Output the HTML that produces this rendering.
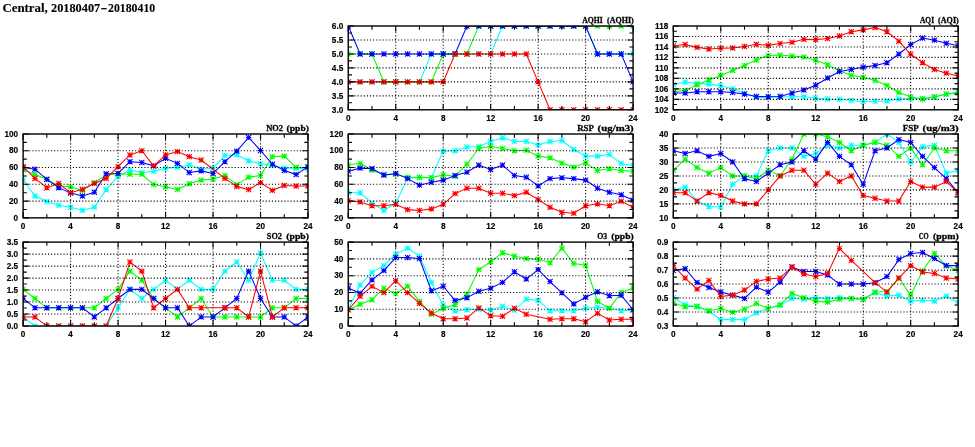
<!DOCTYPE html>
<html lang="en"><head><meta charset="utf-8"><title>Central, 20180407-20180410</title>
<style>
html,body{margin:0;padding:0;background:#fff}
body{width:975px;height:447px;overflow:hidden}
svg{display:block}
text{fill:#000}
.tt{font:bold 11.9px "Liberation Serif",serif;stroke:#000;stroke-width:0.1px}
.ti{font:bold 8.9px "Liberation Serif",serif;stroke:#000;stroke-width:0.28px}
.yl{font:bold 8.2px "Liberation Sans",sans-serif;text-anchor:end;stroke:#000;stroke-width:0.15px}
.xl{font:bold 8.2px "Liberation Sans",sans-serif;text-anchor:middle;stroke:#000;stroke-width:0.15px}
.gr{fill:none;stroke:#000;stroke-width:1.1;stroke-dasharray:1.1 2.01}
.tk{fill:none;stroke:#000;stroke-width:1.1}
.fr{fill:none;stroke:#000;stroke-width:1.4}
</style></head><body>
<svg width="975" height="447" viewBox="0 0 975 447">
<defs><g id="m"><path d="M-2.6 0H2.6M0 -2.6V2.6M-2.6 -2.6L2.6 2.6M-2.6 2.6L2.6 -2.6" fill="none" stroke-width="1.05"/></g></defs>
<rect width="975" height="447" fill="#fff"/>
<text x="2.4" y="11.5" class="tt" xml:space="preserve"><tspan textLength="48.6" lengthAdjust="spacingAndGlyphs">Central, </tspan><tspan textLength="49.2" lengthAdjust="spacingAndGlyphs">20180407</tspan><tspan dx="0.4" textLength="6.9" lengthAdjust="spacingAndGlyphs">-</tspan><tspan dx="0.5" textLength="47.2" lengthAdjust="spacingAndGlyphs">20180410</tspan></text>
<g>
<clipPath id="cp1"><rect x="348.25" y="26" width="284.85" height="83.8"/></clipPath>
<g clip-path="url(#cp1)">
<polyline points="348.25,81.87 360.12,81.87 371.99,81.87 383.86,81.87 395.73,81.87 407.59,81.87 419.46,81.87 431.33,53.93 443.2,53.93 455.07,53.93 466.94,53.93 478.81,53.93 490.68,53.93 502.54,26 514.41,26 526.28,26 538.15,26 550.02,26 561.89,26 573.76,26 585.62,26 597.49,53.93 609.36,53.93 621.23,53.93 633.1,53.93" fill="none" stroke="#00ffff" stroke-width="1.05"/>
<g stroke="#00ffff"><use href="#m" x="348.25" y="81.87"/><use href="#m" x="360.12" y="81.87"/><use href="#m" x="371.99" y="81.87"/><use href="#m" x="383.86" y="81.87"/><use href="#m" x="395.73" y="81.87"/><use href="#m" x="407.59" y="81.87"/><use href="#m" x="419.46" y="81.87"/><use href="#m" x="431.33" y="53.93"/><use href="#m" x="443.2" y="53.93"/><use href="#m" x="455.07" y="53.93"/><use href="#m" x="466.94" y="53.93"/><use href="#m" x="478.81" y="53.93"/><use href="#m" x="490.68" y="53.93"/><use href="#m" x="502.54" y="26"/><use href="#m" x="514.41" y="26"/><use href="#m" x="526.28" y="26"/><use href="#m" x="538.15" y="26"/><use href="#m" x="550.02" y="26"/><use href="#m" x="561.89" y="26"/><use href="#m" x="573.76" y="26"/><use href="#m" x="585.62" y="26"/><use href="#m" x="597.49" y="53.93"/><use href="#m" x="609.36" y="53.93"/><use href="#m" x="621.23" y="53.93"/><use href="#m" x="633.1" y="53.93"/></g>
<polyline points="348.25,53.93 360.12,53.93 371.99,53.93 383.86,81.87 395.73,81.87 407.59,81.87 419.46,81.87 431.33,81.87 443.2,53.93 455.07,53.93 466.94,53.93 478.81,26 490.68,26 502.54,26 514.41,26 526.28,26 538.15,26 550.02,26 561.89,26 573.76,26 585.62,26 597.49,26 609.36,26 621.23,26 633.1,26" fill="none" stroke="#00ff00" stroke-width="1.05"/>
<g stroke="#00ff00"><use href="#m" x="348.25" y="53.93"/><use href="#m" x="360.12" y="53.93"/><use href="#m" x="371.99" y="53.93"/><use href="#m" x="383.86" y="81.87"/><use href="#m" x="395.73" y="81.87"/><use href="#m" x="407.59" y="81.87"/><use href="#m" x="419.46" y="81.87"/><use href="#m" x="431.33" y="81.87"/><use href="#m" x="443.2" y="53.93"/><use href="#m" x="455.07" y="53.93"/><use href="#m" x="466.94" y="53.93"/><use href="#m" x="478.81" y="26"/><use href="#m" x="490.68" y="26"/><use href="#m" x="502.54" y="26"/><use href="#m" x="514.41" y="26"/><use href="#m" x="526.28" y="26"/><use href="#m" x="538.15" y="26"/><use href="#m" x="550.02" y="26"/><use href="#m" x="561.89" y="26"/><use href="#m" x="573.76" y="26"/><use href="#m" x="585.62" y="26"/><use href="#m" x="597.49" y="26"/><use href="#m" x="609.36" y="26"/><use href="#m" x="621.23" y="26"/><use href="#m" x="633.1" y="26"/></g>
<polyline points="348.25,26 360.12,53.93 371.99,53.93 383.86,53.93 395.73,53.93 407.59,53.93 419.46,53.93 431.33,53.93 443.2,53.93 455.07,53.93 466.94,26 478.81,26 490.68,26 502.54,26 514.41,26 526.28,26 538.15,26 550.02,26 561.89,26 573.76,26 585.62,26 597.49,53.93 609.36,53.93 621.23,53.93 633.1,81.87" fill="none" stroke="#0000ff" stroke-width="1.05"/>
<g stroke="#0000ff"><use href="#m" x="348.25" y="26"/><use href="#m" x="360.12" y="53.93"/><use href="#m" x="371.99" y="53.93"/><use href="#m" x="383.86" y="53.93"/><use href="#m" x="395.73" y="53.93"/><use href="#m" x="407.59" y="53.93"/><use href="#m" x="419.46" y="53.93"/><use href="#m" x="431.33" y="53.93"/><use href="#m" x="443.2" y="53.93"/><use href="#m" x="455.07" y="53.93"/><use href="#m" x="466.94" y="26"/><use href="#m" x="478.81" y="26"/><use href="#m" x="490.68" y="26"/><use href="#m" x="502.54" y="26"/><use href="#m" x="514.41" y="26"/><use href="#m" x="526.28" y="26"/><use href="#m" x="538.15" y="26"/><use href="#m" x="550.02" y="26"/><use href="#m" x="561.89" y="26"/><use href="#m" x="573.76" y="26"/><use href="#m" x="585.62" y="26"/><use href="#m" x="597.49" y="53.93"/><use href="#m" x="609.36" y="53.93"/><use href="#m" x="621.23" y="53.93"/><use href="#m" x="633.1" y="81.87"/></g>
<polyline points="348.25,81.87 360.12,81.87 371.99,81.87 383.86,81.87 395.73,81.87 407.59,81.87 419.46,81.87 431.33,81.87 443.2,81.87 455.07,53.93 466.94,53.93 478.81,53.93 490.68,53.93 502.54,53.93 514.41,53.93 526.28,53.93 538.15,81.87 550.02,109.8 561.89,109.8 573.76,109.8 585.62,109.8 597.49,109.8 609.36,109.8 621.23,109.8 633.1,109.8" fill="none" stroke="#ff0000" stroke-width="1.05"/>
<g stroke="#ff0000"><use href="#m" x="348.25" y="81.87"/><use href="#m" x="360.12" y="81.87"/><use href="#m" x="371.99" y="81.87"/><use href="#m" x="383.86" y="81.87"/><use href="#m" x="395.73" y="81.87"/><use href="#m" x="407.59" y="81.87"/><use href="#m" x="419.46" y="81.87"/><use href="#m" x="431.33" y="81.87"/><use href="#m" x="443.2" y="81.87"/><use href="#m" x="455.07" y="53.93"/><use href="#m" x="466.94" y="53.93"/><use href="#m" x="478.81" y="53.93"/><use href="#m" x="490.68" y="53.93"/><use href="#m" x="502.54" y="53.93"/><use href="#m" x="514.41" y="53.93"/><use href="#m" x="526.28" y="53.93"/><use href="#m" x="538.15" y="81.87"/><use href="#m" x="550.02" y="109.8"/><use href="#m" x="561.89" y="109.8"/><use href="#m" x="573.76" y="109.8"/><use href="#m" x="585.62" y="109.8"/><use href="#m" x="597.49" y="109.8"/><use href="#m" x="609.36" y="109.8"/><use href="#m" x="621.23" y="109.8"/><use href="#m" x="633.1" y="109.8"/></g>
</g>
<path d="M348.25 95.83H633.1M348.25 81.87H633.1M348.25 67.9H633.1M348.25 53.93H633.1M348.25 39.97H633.1M395.73 26V109.8M443.2 26V109.8M490.68 26V109.8M538.15 26V109.8M585.62 26V109.8" class="gr"/>
<path d="M348.25 109.8h5.7M633.1 109.8h-5.7M348.25 102.82h3.7M633.1 102.82h-3.7M348.25 95.83h5.7M633.1 95.83h-5.7M348.25 88.85h3.7M633.1 88.85h-3.7M348.25 81.87h5.7M633.1 81.87h-5.7M348.25 74.88h3.7M633.1 74.88h-3.7M348.25 67.9h5.7M633.1 67.9h-5.7M348.25 60.92h3.7M633.1 60.92h-3.7M348.25 53.93h5.7M633.1 53.93h-5.7M348.25 46.95h3.7M633.1 46.95h-3.7M348.25 39.97h5.7M633.1 39.97h-5.7M348.25 32.98h3.7M633.1 32.98h-3.7M348.25 26h5.7M633.1 26h-5.7M348.25 109.8v-5.7M348.25 26v5.7M371.99 109.8v-3.7M371.99 26v3.7M395.73 109.8v-5.7M395.73 26v5.7M419.46 109.8v-3.7M419.46 26v3.7M443.2 109.8v-5.7M443.2 26v5.7M466.94 109.8v-3.7M466.94 26v3.7M490.68 109.8v-5.7M490.68 26v5.7M514.41 109.8v-3.7M514.41 26v3.7M538.15 109.8v-5.7M538.15 26v5.7M561.89 109.8v-3.7M561.89 26v3.7M585.62 109.8v-5.7M585.62 26v5.7M609.36 109.8v-3.7M609.36 26v3.7M633.1 109.8v-5.7M633.1 26v5.7" class="tk"/>
<rect x="348.25" y="26" width="284.85" height="83.8" class="fr"/>
<text x="343.25" y="112.5" class="yl">3.0</text>
<text x="343.25" y="98.53" class="yl">3.5</text>
<text x="343.25" y="84.57" class="yl">4.0</text>
<text x="343.25" y="70.6" class="yl">4.5</text>
<text x="343.25" y="56.63" class="yl">5.0</text>
<text x="343.25" y="42.67" class="yl">5.5</text>
<text x="343.25" y="28.7" class="yl">6.0</text>
<text x="348.25" y="120.95" class="xl">0</text>
<text x="395.73" y="120.95" class="xl">4</text>
<text x="443.2" y="120.95" class="xl">8</text>
<text x="490.68" y="120.95" class="xl">12</text>
<text x="538.15" y="120.95" class="xl">16</text>
<text x="585.62" y="120.95" class="xl">20</text>
<text x="633.1" y="120.95" class="xl">24</text>
<text y="22.6" class="ti" xml:space="preserve"><tspan x="582.2" textLength="20.5" lengthAdjust="spacingAndGlyphs">AQHI</tspan><tspan> </tspan><tspan x="606.97" textLength="26.8" lengthAdjust="spacingAndGlyphs">(AQHI)</tspan></text>
</g>
<g>
<clipPath id="cp2"><rect x="673.3" y="26" width="284.85" height="83.8"/></clipPath>
<g clip-path="url(#cp2)">
<polyline points="673.3,84.66 685.17,82.04 697.04,83.61 708.91,84.14 720.77,85.71 732.64,88.85 744.51,93.56 756.38,97.23 768.25,97.23 780.12,96.97 791.99,96.71 803.86,96.71 815.72,97.91 827.59,98.91 839.46,99.33 851.33,100.53 863.2,101.42 875.07,101.42 886.94,100.9 898.81,98.91 910.67,98.54 922.54,98.54 934.41,97.23 946.28,94.35 958.15,91.99" fill="none" stroke="#00ffff" stroke-width="1.05"/>
<g stroke="#00ffff"><use href="#m" x="673.3" y="84.66"/><use href="#m" x="685.17" y="82.04"/><use href="#m" x="697.04" y="83.61"/><use href="#m" x="708.91" y="84.14"/><use href="#m" x="720.77" y="85.71"/><use href="#m" x="732.64" y="88.85"/><use href="#m" x="744.51" y="93.56"/><use href="#m" x="756.38" y="97.23"/><use href="#m" x="768.25" y="97.23"/><use href="#m" x="780.12" y="96.97"/><use href="#m" x="791.99" y="96.71"/><use href="#m" x="803.86" y="96.71"/><use href="#m" x="815.72" y="97.91"/><use href="#m" x="827.59" y="98.91"/><use href="#m" x="839.46" y="99.33"/><use href="#m" x="851.33" y="100.53"/><use href="#m" x="863.2" y="101.42"/><use href="#m" x="875.07" y="101.42"/><use href="#m" x="886.94" y="100.9"/><use href="#m" x="898.81" y="98.91"/><use href="#m" x="910.67" y="98.54"/><use href="#m" x="922.54" y="98.54"/><use href="#m" x="934.41" y="97.23"/><use href="#m" x="946.28" y="94.35"/><use href="#m" x="958.15" y="91.99"/></g>
<polyline points="673.3,91.68 685.17,90.42 697.04,84.66 708.91,79.95 720.77,75.39 732.64,70.52 744.51,65.54 756.38,60.04 768.25,55.59 780.12,55.02 791.99,56.01 803.86,57.01 815.72,60.25 827.59,64.76 839.46,71.04 851.33,75.23 863.2,77.33 875.07,80.47 886.94,85.45 898.81,92.52 910.67,96.97 922.54,98.91 934.41,96.71 946.28,94.09 958.15,93.04" fill="none" stroke="#00ff00" stroke-width="1.05"/>
<g stroke="#00ff00"><use href="#m" x="673.3" y="91.68"/><use href="#m" x="685.17" y="90.42"/><use href="#m" x="697.04" y="84.66"/><use href="#m" x="708.91" y="79.95"/><use href="#m" x="720.77" y="75.39"/><use href="#m" x="732.64" y="70.52"/><use href="#m" x="744.51" y="65.54"/><use href="#m" x="756.38" y="60.04"/><use href="#m" x="768.25" y="55.59"/><use href="#m" x="780.12" y="55.02"/><use href="#m" x="791.99" y="56.01"/><use href="#m" x="803.86" y="57.01"/><use href="#m" x="815.72" y="60.25"/><use href="#m" x="827.59" y="64.76"/><use href="#m" x="839.46" y="71.04"/><use href="#m" x="851.33" y="75.23"/><use href="#m" x="863.2" y="77.33"/><use href="#m" x="875.07" y="80.47"/><use href="#m" x="886.94" y="85.45"/><use href="#m" x="898.81" y="92.52"/><use href="#m" x="910.67" y="96.97"/><use href="#m" x="922.54" y="98.91"/><use href="#m" x="934.41" y="96.71"/><use href="#m" x="946.28" y="94.09"/><use href="#m" x="958.15" y="93.04"/></g>
<polyline points="673.3,93.04 685.17,93.04 697.04,91.68 708.91,91.68 720.77,91.68 732.64,92.52 744.51,94.09 756.38,96.44 768.25,96.71 780.12,96.44 791.99,93.04 803.86,90.05 815.72,85.18 827.59,78.01 839.46,71.57 851.33,69.47 863.2,67.11 875.07,65.54 886.94,62.66 898.81,54.02 910.67,44.59 922.54,38.05 934.41,40.14 946.28,43.28 958.15,45.69" fill="none" stroke="#0000ff" stroke-width="1.05"/>
<g stroke="#0000ff"><use href="#m" x="673.3" y="93.04"/><use href="#m" x="685.17" y="93.04"/><use href="#m" x="697.04" y="91.68"/><use href="#m" x="708.91" y="91.68"/><use href="#m" x="720.77" y="91.68"/><use href="#m" x="732.64" y="92.52"/><use href="#m" x="744.51" y="94.09"/><use href="#m" x="756.38" y="96.44"/><use href="#m" x="768.25" y="96.71"/><use href="#m" x="780.12" y="96.44"/><use href="#m" x="791.99" y="93.04"/><use href="#m" x="803.86" y="90.05"/><use href="#m" x="815.72" y="85.18"/><use href="#m" x="827.59" y="78.01"/><use href="#m" x="839.46" y="71.57"/><use href="#m" x="851.33" y="69.47"/><use href="#m" x="863.2" y="67.11"/><use href="#m" x="875.07" y="65.54"/><use href="#m" x="886.94" y="62.66"/><use href="#m" x="898.81" y="54.02"/><use href="#m" x="910.67" y="44.59"/><use href="#m" x="922.54" y="38.05"/><use href="#m" x="934.41" y="40.14"/><use href="#m" x="946.28" y="43.28"/><use href="#m" x="958.15" y="45.69"/></g>
<polyline points="673.3,45.9 685.17,44.59 697.04,47.37 708.91,49.05 720.77,48.15 732.64,48 744.51,46.43 756.38,44.33 768.25,45.38 780.12,43.55 791.99,42.24 803.86,39.36 815.72,39.62 827.59,38.57 839.46,35.95 851.33,31.76 863.2,29.88 875.07,27.57 886.94,31.76 898.81,41.19 910.67,54.28 922.54,62.66 934.41,69.47 946.28,73.14 958.15,76.02" fill="none" stroke="#ff0000" stroke-width="1.05"/>
<g stroke="#ff0000"><use href="#m" x="673.3" y="45.9"/><use href="#m" x="685.17" y="44.59"/><use href="#m" x="697.04" y="47.37"/><use href="#m" x="708.91" y="49.05"/><use href="#m" x="720.77" y="48.15"/><use href="#m" x="732.64" y="48"/><use href="#m" x="744.51" y="46.43"/><use href="#m" x="756.38" y="44.33"/><use href="#m" x="768.25" y="45.38"/><use href="#m" x="780.12" y="43.55"/><use href="#m" x="791.99" y="42.24"/><use href="#m" x="803.86" y="39.36"/><use href="#m" x="815.72" y="39.62"/><use href="#m" x="827.59" y="38.57"/><use href="#m" x="839.46" y="35.95"/><use href="#m" x="851.33" y="31.76"/><use href="#m" x="863.2" y="29.88"/><use href="#m" x="875.07" y="27.57"/><use href="#m" x="886.94" y="31.76"/><use href="#m" x="898.81" y="41.19"/><use href="#m" x="910.67" y="54.28"/><use href="#m" x="922.54" y="62.66"/><use href="#m" x="934.41" y="69.47"/><use href="#m" x="946.28" y="73.14"/><use href="#m" x="958.15" y="76.02"/></g>
</g>
<path d="M673.3 99.33H958.15M673.3 88.85H958.15M673.3 78.38H958.15M673.3 67.9H958.15M673.3 57.42H958.15M673.3 46.95H958.15M673.3 36.47H958.15M720.77 26V109.8M768.25 26V109.8M815.72 26V109.8M863.2 26V109.8M910.67 26V109.8" class="gr"/>
<path d="M673.3 109.8h5.7M958.15 109.8h-5.7M673.3 104.56h3.7M958.15 104.56h-3.7M673.3 99.33h5.7M958.15 99.33h-5.7M673.3 94.09h3.7M958.15 94.09h-3.7M673.3 88.85h5.7M958.15 88.85h-5.7M673.3 83.61h3.7M958.15 83.61h-3.7M673.3 78.38h5.7M958.15 78.38h-5.7M673.3 73.14h3.7M958.15 73.14h-3.7M673.3 67.9h5.7M958.15 67.9h-5.7M673.3 62.66h3.7M958.15 62.66h-3.7M673.3 57.42h5.7M958.15 57.42h-5.7M673.3 52.19h3.7M958.15 52.19h-3.7M673.3 46.95h5.7M958.15 46.95h-5.7M673.3 41.71h3.7M958.15 41.71h-3.7M673.3 36.47h5.7M958.15 36.47h-5.7M673.3 31.24h3.7M958.15 31.24h-3.7M673.3 26h5.7M958.15 26h-5.7M673.3 109.8v-5.7M673.3 26v5.7M697.04 109.8v-3.7M697.04 26v3.7M720.77 109.8v-5.7M720.77 26v5.7M744.51 109.8v-3.7M744.51 26v3.7M768.25 109.8v-5.7M768.25 26v5.7M791.99 109.8v-3.7M791.99 26v3.7M815.72 109.8v-5.7M815.72 26v5.7M839.46 109.8v-3.7M839.46 26v3.7M863.2 109.8v-5.7M863.2 26v5.7M886.94 109.8v-3.7M886.94 26v3.7M910.67 109.8v-5.7M910.67 26v5.7M934.41 109.8v-3.7M934.41 26v3.7M958.15 109.8v-5.7M958.15 26v5.7" class="tk"/>
<rect x="673.3" y="26" width="284.85" height="83.8" class="fr"/>
<text x="668.3" y="112.5" class="yl">102</text>
<text x="668.3" y="102.03" class="yl">104</text>
<text x="668.3" y="91.55" class="yl">106</text>
<text x="668.3" y="81.08" class="yl">108</text>
<text x="668.3" y="70.6" class="yl">110</text>
<text x="668.3" y="60.12" class="yl">112</text>
<text x="668.3" y="49.65" class="yl">114</text>
<text x="668.3" y="39.17" class="yl">116</text>
<text x="668.3" y="28.7" class="yl">118</text>
<text x="673.3" y="120.95" class="xl">0</text>
<text x="720.77" y="120.95" class="xl">4</text>
<text x="768.25" y="120.95" class="xl">8</text>
<text x="815.72" y="120.95" class="xl">12</text>
<text x="863.2" y="120.95" class="xl">16</text>
<text x="910.67" y="120.95" class="xl">20</text>
<text x="958.15" y="120.95" class="xl">24</text>
<text y="22.6" class="ti" xml:space="preserve"><tspan x="919.98" textLength="14.1" lengthAdjust="spacingAndGlyphs">AQI</tspan><tspan> </tspan><tspan x="938.07" textLength="20.7" lengthAdjust="spacingAndGlyphs">(AQI)</tspan></text>
</g>
<g>
<clipPath id="cp3"><rect x="23.1" y="134" width="284.9" height="83.85"/></clipPath>
<g clip-path="url(#cp3)">
<polyline points="23.1,179.78 34.97,196.05 46.84,201.58 58.71,205.27 70.58,207.2 82.45,210.3 94.32,207.2 106.2,189.76 118.07,176.18 129.94,170.06 141.81,172.57 153.68,171.15 165.55,168.38 177.42,167.12 189.29,165.02 201.16,169.22 213.03,168.21 224.9,155.55 236.77,154.71 248.65,160.83 260.52,163.77 272.39,165.53 284.26,168.13 296.13,168.13 308,169.22" fill="none" stroke="#00ffff" stroke-width="1.05"/>
<g stroke="#00ffff"><use href="#m" x="23.1" y="179.78"/><use href="#m" x="34.97" y="196.05"/><use href="#m" x="46.84" y="201.58"/><use href="#m" x="58.71" y="205.27"/><use href="#m" x="70.58" y="207.2"/><use href="#m" x="82.45" y="210.3"/><use href="#m" x="94.32" y="207.2"/><use href="#m" x="106.2" y="189.76"/><use href="#m" x="118.07" y="176.18"/><use href="#m" x="129.94" y="170.06"/><use href="#m" x="141.81" y="172.57"/><use href="#m" x="153.68" y="171.15"/><use href="#m" x="165.55" y="168.38"/><use href="#m" x="177.42" y="167.12"/><use href="#m" x="189.29" y="165.02"/><use href="#m" x="201.16" y="169.22"/><use href="#m" x="213.03" y="168.21"/><use href="#m" x="224.9" y="155.55"/><use href="#m" x="236.77" y="154.71"/><use href="#m" x="248.65" y="160.83"/><use href="#m" x="260.52" y="163.77"/><use href="#m" x="272.39" y="165.53"/><use href="#m" x="284.26" y="168.13"/><use href="#m" x="296.13" y="168.13"/><use href="#m" x="308" y="169.22"/></g>
<polyline points="23.1,170.06 34.97,174.25 46.84,179.53 58.71,185.99 70.58,186.83 82.45,190.6 94.32,182.63 106.2,175.09 118.07,173.74 129.94,174.25 141.81,174.25 153.68,184.56 165.55,186.83 177.42,189.59 189.29,183.72 201.16,180.12 213.03,179.03 224.9,175.51 236.77,184.73 248.65,177.18 260.52,175.51 272.39,156.64 284.26,156.14 296.13,167.54 308,167.54" fill="none" stroke="#00ff00" stroke-width="1.05"/>
<g stroke="#00ff00"><use href="#m" x="23.1" y="170.06"/><use href="#m" x="34.97" y="174.25"/><use href="#m" x="46.84" y="179.53"/><use href="#m" x="58.71" y="185.99"/><use href="#m" x="70.58" y="186.83"/><use href="#m" x="82.45" y="190.6"/><use href="#m" x="94.32" y="182.63"/><use href="#m" x="106.2" y="175.09"/><use href="#m" x="118.07" y="173.74"/><use href="#m" x="129.94" y="174.25"/><use href="#m" x="141.81" y="174.25"/><use href="#m" x="153.68" y="184.56"/><use href="#m" x="165.55" y="186.83"/><use href="#m" x="177.42" y="189.59"/><use href="#m" x="189.29" y="183.72"/><use href="#m" x="201.16" y="180.12"/><use href="#m" x="213.03" y="179.03"/><use href="#m" x="224.9" y="175.51"/><use href="#m" x="236.77" y="184.73"/><use href="#m" x="248.65" y="177.18"/><use href="#m" x="260.52" y="175.51"/><use href="#m" x="272.39" y="156.64"/><use href="#m" x="284.26" y="156.14"/><use href="#m" x="296.13" y="167.54"/><use href="#m" x="308" y="167.54"/></g>
<polyline points="23.1,167.54 34.97,169.22 46.84,179.28 58.71,187.66 70.58,193.11 82.45,196.05 94.32,192.19 106.2,173.74 118.07,173.41 129.94,161.67 141.81,162.51 153.68,165.86 165.55,158.32 177.42,163.35 189.29,172.57 201.16,170.89 213.03,173.41 224.9,161.67 236.77,151.11 248.65,137.52 260.52,150.52 272.39,164.19 284.26,170.56 296.13,174.58 308,166.7" fill="none" stroke="#0000ff" stroke-width="1.05"/>
<g stroke="#0000ff"><use href="#m" x="23.1" y="167.54"/><use href="#m" x="34.97" y="169.22"/><use href="#m" x="46.84" y="179.28"/><use href="#m" x="58.71" y="187.66"/><use href="#m" x="70.58" y="193.11"/><use href="#m" x="82.45" y="196.05"/><use href="#m" x="94.32" y="192.19"/><use href="#m" x="106.2" y="173.74"/><use href="#m" x="118.07" y="173.41"/><use href="#m" x="129.94" y="161.67"/><use href="#m" x="141.81" y="162.51"/><use href="#m" x="153.68" y="165.86"/><use href="#m" x="165.55" y="158.32"/><use href="#m" x="177.42" y="163.35"/><use href="#m" x="189.29" y="172.57"/><use href="#m" x="201.16" y="170.89"/><use href="#m" x="213.03" y="173.41"/><use href="#m" x="224.9" y="161.67"/><use href="#m" x="236.77" y="151.11"/><use href="#m" x="248.65" y="137.52"/><use href="#m" x="260.52" y="150.52"/><use href="#m" x="272.39" y="164.19"/><use href="#m" x="284.26" y="170.56"/><use href="#m" x="296.13" y="174.58"/><use href="#m" x="308" y="166.7"/></g>
<polyline points="23.1,166.7 34.97,178.44 46.84,187.66 58.71,183.47 70.58,192.69 82.45,189.34 94.32,183.47 106.2,178.44 118.07,166.7 129.94,154.96 141.81,150.77 153.68,165.86 165.55,154.96 177.42,151.61 189.29,156.64 201.16,159.99 224.9,178.44 236.77,186.57 248.65,189.59 260.52,182.63 272.39,190.35 284.26,185.57 296.13,185.99 308,185.99" fill="none" stroke="#ff0000" stroke-width="1.05"/>
<g stroke="#ff0000"><use href="#m" x="23.1" y="166.7"/><use href="#m" x="34.97" y="178.44"/><use href="#m" x="46.84" y="187.66"/><use href="#m" x="58.71" y="183.47"/><use href="#m" x="70.58" y="192.69"/><use href="#m" x="82.45" y="189.34"/><use href="#m" x="94.32" y="183.47"/><use href="#m" x="106.2" y="178.44"/><use href="#m" x="118.07" y="166.7"/><use href="#m" x="129.94" y="154.96"/><use href="#m" x="141.81" y="150.77"/><use href="#m" x="153.68" y="165.86"/><use href="#m" x="165.55" y="154.96"/><use href="#m" x="177.42" y="151.61"/><use href="#m" x="189.29" y="156.64"/><use href="#m" x="201.16" y="159.99"/><use href="#m" x="224.9" y="178.44"/><use href="#m" x="236.77" y="186.57"/><use href="#m" x="248.65" y="189.59"/><use href="#m" x="260.52" y="182.63"/><use href="#m" x="272.39" y="190.35"/><use href="#m" x="284.26" y="185.57"/><use href="#m" x="296.13" y="185.99"/><use href="#m" x="308" y="185.99"/></g>
</g>
<path d="M23.1 201.08H308M23.1 184.31H308M23.1 167.54H308M23.1 150.77H308M70.58 134V217.85M118.07 134V217.85M165.55 134V217.85M213.03 134V217.85M260.52 134V217.85" class="gr"/>
<path d="M23.1 217.85h5.7M308 217.85h-5.7M23.1 209.47h3.7M308 209.47h-3.7M23.1 201.08h5.7M308 201.08h-5.7M23.1 192.69h3.7M308 192.69h-3.7M23.1 184.31h5.7M308 184.31h-5.7M23.1 175.93h3.7M308 175.93h-3.7M23.1 167.54h5.7M308 167.54h-5.7M23.1 159.16h3.7M308 159.16h-3.7M23.1 150.77h5.7M308 150.77h-5.7M23.1 142.38h3.7M308 142.38h-3.7M23.1 134h5.7M308 134h-5.7M23.1 217.85v-5.7M23.1 134v5.7M46.84 217.85v-3.7M46.84 134v3.7M70.58 217.85v-5.7M70.58 134v5.7M94.32 217.85v-3.7M94.32 134v3.7M118.07 217.85v-5.7M118.07 134v5.7M141.81 217.85v-3.7M141.81 134v3.7M165.55 217.85v-5.7M165.55 134v5.7M189.29 217.85v-3.7M189.29 134v3.7M213.03 217.85v-5.7M213.03 134v5.7M236.77 217.85v-3.7M236.77 134v3.7M260.52 217.85v-5.7M260.52 134v5.7M284.26 217.85v-3.7M284.26 134v3.7M308 217.85v-5.7M308 134v5.7" class="tk"/>
<rect x="23.1" y="134" width="284.9" height="83.85" class="fr"/>
<text x="18.1" y="220.55" class="yl">0</text>
<text x="18.1" y="203.78" class="yl">20</text>
<text x="18.1" y="187.01" class="yl">40</text>
<text x="18.1" y="170.24" class="yl">60</text>
<text x="18.1" y="153.47" class="yl">80</text>
<text x="18.1" y="136.7" class="yl">100</text>
<text x="23.1" y="229" class="xl">0</text>
<text x="70.58" y="229" class="xl">4</text>
<text x="118.07" y="229" class="xl">8</text>
<text x="165.55" y="229" class="xl">12</text>
<text x="213.03" y="229" class="xl">16</text>
<text x="260.52" y="229" class="xl">20</text>
<text x="308" y="229" class="xl">24</text>
<text y="130.6" class="ti" xml:space="preserve"><tspan x="266.15" textLength="16.9" lengthAdjust="spacingAndGlyphs">NO2</tspan><tspan> </tspan><tspan x="286.6" textLength="22.4" lengthAdjust="spacingAndGlyphs">(ppb)</tspan></text>
</g>
<g>
<clipPath id="cp4"><rect x="348.25" y="134" width="284.85" height="83.85"/></clipPath>
<g clip-path="url(#cp4)">
<polyline points="348.25,192.69 360.12,192.69 371.99,203.26 383.86,210.47 395.73,203.26 407.59,178.19 419.46,177.6 431.33,177.6 443.2,151.11 455.07,150.77 466.94,147.08 478.81,146.58 490.68,141.55 502.54,137.69 514.41,141.55 526.28,141.55 538.15,144.9 550.02,141.55 561.89,140.46 573.76,149.51 585.62,156.14 597.49,156.14 609.36,154.54 621.23,163.52 633.1,165.53" fill="none" stroke="#00ffff" stroke-width="1.05"/>
<g stroke="#00ffff"><use href="#m" x="348.25" y="192.69"/><use href="#m" x="360.12" y="192.69"/><use href="#m" x="371.99" y="203.26"/><use href="#m" x="383.86" y="210.47"/><use href="#m" x="395.73" y="203.26"/><use href="#m" x="407.59" y="178.19"/><use href="#m" x="419.46" y="177.6"/><use href="#m" x="431.33" y="177.6"/><use href="#m" x="443.2" y="151.11"/><use href="#m" x="455.07" y="150.77"/><use href="#m" x="466.94" y="147.08"/><use href="#m" x="478.81" y="146.58"/><use href="#m" x="490.68" y="141.55"/><use href="#m" x="502.54" y="137.69"/><use href="#m" x="514.41" y="141.55"/><use href="#m" x="526.28" y="141.55"/><use href="#m" x="538.15" y="144.9"/><use href="#m" x="550.02" y="141.55"/><use href="#m" x="561.89" y="140.46"/><use href="#m" x="573.76" y="149.51"/><use href="#m" x="585.62" y="156.14"/><use href="#m" x="597.49" y="156.14"/><use href="#m" x="609.36" y="154.54"/><use href="#m" x="621.23" y="163.52"/><use href="#m" x="633.1" y="165.53"/></g>
<polyline points="348.25,165.02 360.12,163.35 371.99,170.06 383.86,174.75 395.73,174.25 407.59,177.18 419.46,177.18 431.33,177.6 443.2,175.09 455.07,176.18 466.94,164.19 478.81,148.25 490.68,146.58 502.54,148.51 514.41,150.77 526.28,150.27 538.15,156.14 550.02,157.73 561.89,163.1 573.76,167.12 585.62,162.76 597.49,170.56 609.36,168.71 621.23,170.56 633.1,171.15" fill="none" stroke="#00ff00" stroke-width="1.05"/>
<g stroke="#00ff00"><use href="#m" x="348.25" y="165.02"/><use href="#m" x="360.12" y="163.35"/><use href="#m" x="371.99" y="170.06"/><use href="#m" x="383.86" y="174.75"/><use href="#m" x="395.73" y="174.25"/><use href="#m" x="407.59" y="177.18"/><use href="#m" x="419.46" y="177.18"/><use href="#m" x="431.33" y="177.6"/><use href="#m" x="443.2" y="175.09"/><use href="#m" x="455.07" y="176.18"/><use href="#m" x="466.94" y="164.19"/><use href="#m" x="478.81" y="148.25"/><use href="#m" x="490.68" y="146.58"/><use href="#m" x="502.54" y="148.51"/><use href="#m" x="514.41" y="150.77"/><use href="#m" x="526.28" y="150.27"/><use href="#m" x="538.15" y="156.14"/><use href="#m" x="550.02" y="157.73"/><use href="#m" x="561.89" y="163.1"/><use href="#m" x="573.76" y="167.12"/><use href="#m" x="585.62" y="162.76"/><use href="#m" x="597.49" y="170.56"/><use href="#m" x="609.36" y="168.71"/><use href="#m" x="621.23" y="170.56"/><use href="#m" x="633.1" y="171.15"/></g>
<polyline points="348.25,171.15 360.12,168.13 371.99,168.55 383.86,175.09 395.73,173.58 407.59,178.61 419.46,185.15 431.33,182.21 443.2,180.12 455.07,175.59 466.94,172.15 478.81,165.02 490.68,169.55 502.54,165.02 514.41,175.59 526.28,177.18 538.15,185.99 550.02,178.61 561.89,177.77 573.76,178.61 585.62,180.12 597.49,188.17 609.36,192.19 621.23,194.79 633.1,200.24" fill="none" stroke="#0000ff" stroke-width="1.05"/>
<g stroke="#0000ff"><use href="#m" x="348.25" y="171.15"/><use href="#m" x="360.12" y="168.13"/><use href="#m" x="371.99" y="168.55"/><use href="#m" x="383.86" y="175.09"/><use href="#m" x="395.73" y="173.58"/><use href="#m" x="407.59" y="178.61"/><use href="#m" x="419.46" y="185.15"/><use href="#m" x="431.33" y="182.21"/><use href="#m" x="443.2" y="180.12"/><use href="#m" x="455.07" y="175.59"/><use href="#m" x="466.94" y="172.15"/><use href="#m" x="478.81" y="165.02"/><use href="#m" x="490.68" y="169.55"/><use href="#m" x="502.54" y="165.02"/><use href="#m" x="514.41" y="175.59"/><use href="#m" x="526.28" y="177.18"/><use href="#m" x="538.15" y="185.99"/><use href="#m" x="550.02" y="178.61"/><use href="#m" x="561.89" y="177.77"/><use href="#m" x="573.76" y="178.61"/><use href="#m" x="585.62" y="180.12"/><use href="#m" x="597.49" y="188.17"/><use href="#m" x="609.36" y="192.19"/><use href="#m" x="621.23" y="194.79"/><use href="#m" x="633.1" y="200.24"/></g>
<polyline points="348.25,200.83 360.12,201.92 371.99,205.69 383.86,205.69 395.73,204.27 407.59,209.63 419.46,210.47 431.33,208.88 443.2,204.27 455.07,193.62 466.94,188.17 478.81,188.17 490.68,193.2 502.54,193.2 514.41,195.63 526.28,192.19 538.15,199.65 550.02,207.28 561.89,212.23 573.76,213.24 585.62,205.69 597.49,203.85 609.36,205.69 621.23,201.25 633.1,207.28" fill="none" stroke="#ff0000" stroke-width="1.05"/>
<g stroke="#ff0000"><use href="#m" x="348.25" y="200.83"/><use href="#m" x="360.12" y="201.92"/><use href="#m" x="371.99" y="205.69"/><use href="#m" x="383.86" y="205.69"/><use href="#m" x="395.73" y="204.27"/><use href="#m" x="407.59" y="209.63"/><use href="#m" x="419.46" y="210.47"/><use href="#m" x="431.33" y="208.88"/><use href="#m" x="443.2" y="204.27"/><use href="#m" x="455.07" y="193.62"/><use href="#m" x="466.94" y="188.17"/><use href="#m" x="478.81" y="188.17"/><use href="#m" x="490.68" y="193.2"/><use href="#m" x="502.54" y="193.2"/><use href="#m" x="514.41" y="195.63"/><use href="#m" x="526.28" y="192.19"/><use href="#m" x="538.15" y="199.65"/><use href="#m" x="550.02" y="207.28"/><use href="#m" x="561.89" y="212.23"/><use href="#m" x="573.76" y="213.24"/><use href="#m" x="585.62" y="205.69"/><use href="#m" x="597.49" y="203.85"/><use href="#m" x="609.36" y="205.69"/><use href="#m" x="621.23" y="201.25"/><use href="#m" x="633.1" y="207.28"/></g>
</g>
<path d="M348.25 201.08H633.1M348.25 184.31H633.1M348.25 167.54H633.1M348.25 150.77H633.1M395.73 134V217.85M443.2 134V217.85M490.68 134V217.85M538.15 134V217.85M585.62 134V217.85" class="gr"/>
<path d="M348.25 217.85h5.7M633.1 217.85h-5.7M348.25 209.47h3.7M633.1 209.47h-3.7M348.25 201.08h5.7M633.1 201.08h-5.7M348.25 192.69h3.7M633.1 192.69h-3.7M348.25 184.31h5.7M633.1 184.31h-5.7M348.25 175.93h3.7M633.1 175.93h-3.7M348.25 167.54h5.7M633.1 167.54h-5.7M348.25 159.16h3.7M633.1 159.16h-3.7M348.25 150.77h5.7M633.1 150.77h-5.7M348.25 142.38h3.7M633.1 142.38h-3.7M348.25 134h5.7M633.1 134h-5.7M348.25 217.85v-5.7M348.25 134v5.7M371.99 217.85v-3.7M371.99 134v3.7M395.73 217.85v-5.7M395.73 134v5.7M419.46 217.85v-3.7M419.46 134v3.7M443.2 217.85v-5.7M443.2 134v5.7M466.94 217.85v-3.7M466.94 134v3.7M490.68 217.85v-5.7M490.68 134v5.7M514.41 217.85v-3.7M514.41 134v3.7M538.15 217.85v-5.7M538.15 134v5.7M561.89 217.85v-3.7M561.89 134v3.7M585.62 217.85v-5.7M585.62 134v5.7M609.36 217.85v-3.7M609.36 134v3.7M633.1 217.85v-5.7M633.1 134v5.7" class="tk"/>
<rect x="348.25" y="134" width="284.85" height="83.85" class="fr"/>
<text x="343.25" y="220.55" class="yl">20</text>
<text x="343.25" y="203.78" class="yl">40</text>
<text x="343.25" y="187.01" class="yl">60</text>
<text x="343.25" y="170.24" class="yl">80</text>
<text x="343.25" y="153.47" class="yl">100</text>
<text x="343.25" y="136.7" class="yl">120</text>
<text x="348.25" y="229" class="xl">0</text>
<text x="395.73" y="229" class="xl">4</text>
<text x="443.2" y="229" class="xl">8</text>
<text x="490.68" y="229" class="xl">12</text>
<text x="538.15" y="229" class="xl">16</text>
<text x="585.62" y="229" class="xl">20</text>
<text x="633.1" y="229" class="xl">24</text>
<text y="130.6" class="ti" xml:space="preserve"><tspan x="577.2" textLength="16.1" lengthAdjust="spacingAndGlyphs">RSP</tspan><tspan> </tspan><tspan x="597.6" textLength="36.1" lengthAdjust="spacingAndGlyphs">(ug/m3)</tspan></text>
</g>
<g>
<clipPath id="cp5"><rect x="673.3" y="134" width="284.85" height="83.85"/></clipPath>
<g clip-path="url(#cp5)">
<polyline points="673.3,189.9 685.17,187.1 697.04,201.08 708.91,206.67 720.77,206.67 732.64,184.31 744.51,175.93 756.38,175.93 768.25,150.77 780.12,147.97 791.99,147.97 803.86,156.36 815.72,153.56 827.59,145.18 839.46,147.97 851.33,145.18 863.2,145.18 875.07,142.38 886.94,134 898.81,142.38 910.67,161.95 922.54,146.86 934.41,145.18 946.28,173.13 958.15,170.34" fill="none" stroke="#00ffff" stroke-width="1.05"/>
<g stroke="#00ffff"><use href="#m" x="673.3" y="189.9"/><use href="#m" x="685.17" y="187.1"/><use href="#m" x="697.04" y="201.08"/><use href="#m" x="708.91" y="206.67"/><use href="#m" x="720.77" y="206.67"/><use href="#m" x="732.64" y="184.31"/><use href="#m" x="744.51" y="175.93"/><use href="#m" x="756.38" y="175.93"/><use href="#m" x="768.25" y="150.77"/><use href="#m" x="780.12" y="147.97"/><use href="#m" x="791.99" y="147.97"/><use href="#m" x="803.86" y="156.36"/><use href="#m" x="815.72" y="153.56"/><use href="#m" x="827.59" y="145.18"/><use href="#m" x="839.46" y="147.97"/><use href="#m" x="851.33" y="145.18"/><use href="#m" x="863.2" y="145.18"/><use href="#m" x="875.07" y="142.38"/><use href="#m" x="886.94" y="134"/><use href="#m" x="898.81" y="142.38"/><use href="#m" x="910.67" y="161.95"/><use href="#m" x="922.54" y="146.86"/><use href="#m" x="934.41" y="145.18"/><use href="#m" x="946.28" y="173.13"/><use href="#m" x="958.15" y="170.34"/></g>
<polyline points="673.3,170.34 685.17,159.16 697.04,167.54 708.91,173.13 720.77,167.54 732.64,175.93 744.51,175.93 756.38,178.72 768.25,170.34 780.12,175.93 791.99,159.16 803.86,134 815.72,134 827.59,136.8 839.46,142.38 851.33,150.77 863.2,145.18 875.07,142.38 886.94,145.18 898.81,156.36 910.67,147.97 922.54,164.75 934.41,147.97 946.28,150.77 958.15,150.77" fill="none" stroke="#00ff00" stroke-width="1.05"/>
<g stroke="#00ff00"><use href="#m" x="673.3" y="170.34"/><use href="#m" x="685.17" y="159.16"/><use href="#m" x="697.04" y="167.54"/><use href="#m" x="708.91" y="173.13"/><use href="#m" x="720.77" y="167.54"/><use href="#m" x="732.64" y="175.93"/><use href="#m" x="744.51" y="175.93"/><use href="#m" x="756.38" y="178.72"/><use href="#m" x="768.25" y="170.34"/><use href="#m" x="780.12" y="175.93"/><use href="#m" x="791.99" y="159.16"/><use href="#m" x="803.86" y="134"/><use href="#m" x="815.72" y="134"/><use href="#m" x="827.59" y="136.8"/><use href="#m" x="839.46" y="142.38"/><use href="#m" x="851.33" y="150.77"/><use href="#m" x="863.2" y="145.18"/><use href="#m" x="875.07" y="142.38"/><use href="#m" x="886.94" y="145.18"/><use href="#m" x="898.81" y="156.36"/><use href="#m" x="910.67" y="147.97"/><use href="#m" x="922.54" y="164.75"/><use href="#m" x="934.41" y="147.97"/><use href="#m" x="946.28" y="150.77"/><use href="#m" x="958.15" y="150.77"/></g>
<polyline points="673.3,150.77 685.17,153.56 697.04,150.77 708.91,156.36 720.77,153.56 732.64,161.95 744.51,178.72 756.38,181.51 768.25,173.13 780.12,164.75 791.99,161.95 803.86,150.77 815.72,159.16 827.59,142.38 839.46,156.36 851.33,164.75 863.2,184.31 875.07,150.77 886.94,147.97 898.81,139.59 910.67,142.38 922.54,156.36 934.41,167.54 946.28,178.72 958.15,192.69" fill="none" stroke="#0000ff" stroke-width="1.05"/>
<g stroke="#0000ff"><use href="#m" x="673.3" y="150.77"/><use href="#m" x="685.17" y="153.56"/><use href="#m" x="697.04" y="150.77"/><use href="#m" x="708.91" y="156.36"/><use href="#m" x="720.77" y="153.56"/><use href="#m" x="732.64" y="161.95"/><use href="#m" x="744.51" y="178.72"/><use href="#m" x="756.38" y="181.51"/><use href="#m" x="768.25" y="173.13"/><use href="#m" x="780.12" y="164.75"/><use href="#m" x="791.99" y="161.95"/><use href="#m" x="803.86" y="150.77"/><use href="#m" x="815.72" y="159.16"/><use href="#m" x="827.59" y="142.38"/><use href="#m" x="839.46" y="156.36"/><use href="#m" x="851.33" y="164.75"/><use href="#m" x="863.2" y="184.31"/><use href="#m" x="875.07" y="150.77"/><use href="#m" x="886.94" y="147.97"/><use href="#m" x="898.81" y="139.59"/><use href="#m" x="910.67" y="142.38"/><use href="#m" x="922.54" y="156.36"/><use href="#m" x="934.41" y="167.54"/><use href="#m" x="946.28" y="178.72"/><use href="#m" x="958.15" y="192.69"/></g>
<polyline points="673.3,192.69 685.17,192.69 697.04,201.08 708.91,192.69 720.77,195.49 732.64,201.08 744.51,203.88 756.38,203.88 768.25,189.9 780.12,175.93 791.99,170.34 803.86,170.34 815.72,184.31 827.59,173.13 839.46,181.51 851.33,175.93 863.2,195.49 875.07,198.28 886.94,201.08 898.81,201.08 910.67,181.51 922.54,187.1 934.41,187.1 946.28,181.51 958.15,192.69" fill="none" stroke="#ff0000" stroke-width="1.05"/>
<g stroke="#ff0000"><use href="#m" x="673.3" y="192.69"/><use href="#m" x="685.17" y="192.69"/><use href="#m" x="697.04" y="201.08"/><use href="#m" x="708.91" y="192.69"/><use href="#m" x="720.77" y="195.49"/><use href="#m" x="732.64" y="201.08"/><use href="#m" x="744.51" y="203.88"/><use href="#m" x="756.38" y="203.88"/><use href="#m" x="768.25" y="189.9"/><use href="#m" x="780.12" y="175.93"/><use href="#m" x="791.99" y="170.34"/><use href="#m" x="803.86" y="170.34"/><use href="#m" x="815.72" y="184.31"/><use href="#m" x="827.59" y="173.13"/><use href="#m" x="839.46" y="181.51"/><use href="#m" x="851.33" y="175.93"/><use href="#m" x="863.2" y="195.49"/><use href="#m" x="875.07" y="198.28"/><use href="#m" x="886.94" y="201.08"/><use href="#m" x="898.81" y="201.08"/><use href="#m" x="910.67" y="181.51"/><use href="#m" x="922.54" y="187.1"/><use href="#m" x="934.41" y="187.1"/><use href="#m" x="946.28" y="181.51"/><use href="#m" x="958.15" y="192.69"/></g>
</g>
<path d="M673.3 203.88H958.15M673.3 189.9H958.15M673.3 175.93H958.15M673.3 161.95H958.15M673.3 147.97H958.15M720.77 134V217.85M768.25 134V217.85M815.72 134V217.85M863.2 134V217.85M910.67 134V217.85" class="gr"/>
<path d="M673.3 217.85h5.7M958.15 217.85h-5.7M673.3 210.86h3.7M958.15 210.86h-3.7M673.3 203.88h5.7M958.15 203.88h-5.7M673.3 196.89h3.7M958.15 196.89h-3.7M673.3 189.9h5.7M958.15 189.9h-5.7M673.3 182.91h3.7M958.15 182.91h-3.7M673.3 175.93h5.7M958.15 175.93h-5.7M673.3 168.94h3.7M958.15 168.94h-3.7M673.3 161.95h5.7M958.15 161.95h-5.7M673.3 154.96h3.7M958.15 154.96h-3.7M673.3 147.97h5.7M958.15 147.97h-5.7M673.3 140.99h3.7M958.15 140.99h-3.7M673.3 134h5.7M958.15 134h-5.7M673.3 217.85v-5.7M673.3 134v5.7M697.04 217.85v-3.7M697.04 134v3.7M720.77 217.85v-5.7M720.77 134v5.7M744.51 217.85v-3.7M744.51 134v3.7M768.25 217.85v-5.7M768.25 134v5.7M791.99 217.85v-3.7M791.99 134v3.7M815.72 217.85v-5.7M815.72 134v5.7M839.46 217.85v-3.7M839.46 134v3.7M863.2 217.85v-5.7M863.2 134v5.7M886.94 217.85v-3.7M886.94 134v3.7M910.67 217.85v-5.7M910.67 134v5.7M934.41 217.85v-3.7M934.41 134v3.7M958.15 217.85v-5.7M958.15 134v5.7" class="tk"/>
<rect x="673.3" y="134" width="284.85" height="83.85" class="fr"/>
<text x="668.3" y="220.55" class="yl">10</text>
<text x="668.3" y="206.57" class="yl">15</text>
<text x="668.3" y="192.6" class="yl">20</text>
<text x="668.3" y="178.62" class="yl">25</text>
<text x="668.3" y="164.65" class="yl">30</text>
<text x="668.3" y="150.67" class="yl">35</text>
<text x="668.3" y="136.7" class="yl">40</text>
<text x="673.3" y="229" class="xl">0</text>
<text x="720.77" y="229" class="xl">4</text>
<text x="768.25" y="229" class="xl">8</text>
<text x="815.72" y="229" class="xl">12</text>
<text x="863.2" y="229" class="xl">16</text>
<text x="910.67" y="229" class="xl">20</text>
<text x="958.15" y="229" class="xl">24</text>
<text y="130.6" class="ti" xml:space="preserve"><tspan x="902.75" textLength="15.6" lengthAdjust="spacingAndGlyphs">FSP</tspan><tspan> </tspan><tspan x="922.6" textLength="36.1" lengthAdjust="spacingAndGlyphs">(ug/m3)</tspan></text>
</g>
<g>
<clipPath id="cp6"><rect x="23.1" y="242.1" width="284.9" height="83.95"/></clipPath>
<g clip-path="url(#cp6)">
<polyline points="23.1,316.94 34.97,326.05 46.84,326.05 58.71,326.05 70.58,326.05 82.45,326.05 94.32,326.05 106.2,326.05 118.07,307.82 129.94,289.35 141.81,298.47 153.68,289.35 165.55,280.24 177.42,289.35 189.29,280.24 201.16,289.35 213.03,289.35 224.9,271.12 236.77,262.01 248.65,280.24 260.52,252.89 272.39,280.24 284.26,280.24 296.13,289.35 308,289.35" fill="none" stroke="#00ffff" stroke-width="1.05"/>
<g stroke="#00ffff"><use href="#m" x="23.1" y="316.94"/><use href="#m" x="34.97" y="326.05"/><use href="#m" x="46.84" y="326.05"/><use href="#m" x="58.71" y="326.05"/><use href="#m" x="70.58" y="326.05"/><use href="#m" x="82.45" y="326.05"/><use href="#m" x="94.32" y="326.05"/><use href="#m" x="106.2" y="326.05"/><use href="#m" x="118.07" y="307.82"/><use href="#m" x="129.94" y="289.35"/><use href="#m" x="141.81" y="298.47"/><use href="#m" x="153.68" y="289.35"/><use href="#m" x="165.55" y="280.24"/><use href="#m" x="177.42" y="289.35"/><use href="#m" x="189.29" y="280.24"/><use href="#m" x="201.16" y="289.35"/><use href="#m" x="213.03" y="289.35"/><use href="#m" x="224.9" y="271.12"/><use href="#m" x="236.77" y="262.01"/><use href="#m" x="248.65" y="280.24"/><use href="#m" x="260.52" y="252.89"/><use href="#m" x="272.39" y="280.24"/><use href="#m" x="284.26" y="280.24"/><use href="#m" x="296.13" y="289.35"/><use href="#m" x="308" y="289.35"/></g>
<polyline points="23.1,289.35 34.97,298.47 46.84,307.82 58.71,307.82 70.58,307.82 82.45,307.82 94.32,307.82 106.2,298.47 118.07,289.35 129.94,271.12 141.81,280.24 153.68,298.47 165.55,307.82 177.42,316.94 189.29,307.82 201.16,298.47 213.03,316.94 224.9,316.94 236.77,316.94 248.65,316.94 260.52,316.94 272.39,307.82 284.26,307.82 296.13,298.47 308,298.47" fill="none" stroke="#00ff00" stroke-width="1.05"/>
<g stroke="#00ff00"><use href="#m" x="23.1" y="289.35"/><use href="#m" x="34.97" y="298.47"/><use href="#m" x="46.84" y="307.82"/><use href="#m" x="58.71" y="307.82"/><use href="#m" x="70.58" y="307.82"/><use href="#m" x="82.45" y="307.82"/><use href="#m" x="94.32" y="307.82"/><use href="#m" x="106.2" y="298.47"/><use href="#m" x="118.07" y="289.35"/><use href="#m" x="129.94" y="271.12"/><use href="#m" x="141.81" y="280.24"/><use href="#m" x="153.68" y="298.47"/><use href="#m" x="165.55" y="307.82"/><use href="#m" x="177.42" y="316.94"/><use href="#m" x="189.29" y="307.82"/><use href="#m" x="201.16" y="298.47"/><use href="#m" x="213.03" y="316.94"/><use href="#m" x="224.9" y="316.94"/><use href="#m" x="236.77" y="316.94"/><use href="#m" x="248.65" y="316.94"/><use href="#m" x="260.52" y="316.94"/><use href="#m" x="272.39" y="307.82"/><use href="#m" x="284.26" y="307.82"/><use href="#m" x="296.13" y="298.47"/><use href="#m" x="308" y="298.47"/></g>
<polyline points="23.1,298.47 34.97,307.82 46.84,307.82 58.71,307.82 70.58,307.82 82.45,307.82 94.32,316.94 106.2,307.82 118.07,298.47 129.94,289.35 141.81,289.35 153.68,298.47 165.55,307.82 177.42,307.82 189.29,326.05 201.16,316.94 213.03,316.94 224.9,307.82 236.77,298.47 248.65,271.12 260.52,298.47 272.39,316.94 284.26,316.94 296.13,326.05 308,316.94" fill="none" stroke="#0000ff" stroke-width="1.05"/>
<g stroke="#0000ff"><use href="#m" x="23.1" y="298.47"/><use href="#m" x="34.97" y="307.82"/><use href="#m" x="46.84" y="307.82"/><use href="#m" x="58.71" y="307.82"/><use href="#m" x="70.58" y="307.82"/><use href="#m" x="82.45" y="307.82"/><use href="#m" x="94.32" y="316.94"/><use href="#m" x="106.2" y="307.82"/><use href="#m" x="118.07" y="298.47"/><use href="#m" x="129.94" y="289.35"/><use href="#m" x="141.81" y="289.35"/><use href="#m" x="153.68" y="298.47"/><use href="#m" x="165.55" y="307.82"/><use href="#m" x="177.42" y="307.82"/><use href="#m" x="189.29" y="326.05"/><use href="#m" x="201.16" y="316.94"/><use href="#m" x="213.03" y="316.94"/><use href="#m" x="224.9" y="307.82"/><use href="#m" x="236.77" y="298.47"/><use href="#m" x="248.65" y="271.12"/><use href="#m" x="260.52" y="298.47"/><use href="#m" x="272.39" y="316.94"/><use href="#m" x="284.26" y="316.94"/><use href="#m" x="296.13" y="326.05"/><use href="#m" x="308" y="316.94"/></g>
<polyline points="23.1,316.94 34.97,316.94 46.84,326.05 58.71,326.05 70.58,326.05 82.45,326.05 94.32,326.05 106.2,326.05 118.07,298.47 129.94,262.01 141.81,271.12 153.68,307.82 165.55,298.47 177.42,289.35 189.29,307.82 201.16,307.82 224.9,307.82 236.77,307.82 248.65,316.94 260.52,271.12 272.39,316.94 284.26,307.82 296.13,307.82 308,307.82" fill="none" stroke="#ff0000" stroke-width="1.05"/>
<g stroke="#ff0000"><use href="#m" x="23.1" y="316.94"/><use href="#m" x="34.97" y="316.94"/><use href="#m" x="46.84" y="326.05"/><use href="#m" x="58.71" y="326.05"/><use href="#m" x="70.58" y="326.05"/><use href="#m" x="82.45" y="326.05"/><use href="#m" x="94.32" y="326.05"/><use href="#m" x="106.2" y="326.05"/><use href="#m" x="118.07" y="298.47"/><use href="#m" x="129.94" y="262.01"/><use href="#m" x="141.81" y="271.12"/><use href="#m" x="153.68" y="307.82"/><use href="#m" x="165.55" y="298.47"/><use href="#m" x="177.42" y="289.35"/><use href="#m" x="189.29" y="307.82"/><use href="#m" x="201.16" y="307.82"/><use href="#m" x="224.9" y="307.82"/><use href="#m" x="236.77" y="307.82"/><use href="#m" x="248.65" y="316.94"/><use href="#m" x="260.52" y="271.12"/><use href="#m" x="272.39" y="316.94"/><use href="#m" x="284.26" y="307.82"/><use href="#m" x="296.13" y="307.82"/><use href="#m" x="308" y="307.82"/></g>
</g>
<path d="M23.1 314.06H308M23.1 302.06H308M23.1 290.07H308M23.1 278.08H308M23.1 266.09H308M23.1 254.09H308M70.58 242.1V326.05M118.07 242.1V326.05M165.55 242.1V326.05M213.03 242.1V326.05M260.52 242.1V326.05" class="gr"/>
<path d="M23.1 326.05h5.7M308 326.05h-5.7M23.1 320.05h3.7M308 320.05h-3.7M23.1 314.06h5.7M308 314.06h-5.7M23.1 308.06h3.7M308 308.06h-3.7M23.1 302.06h5.7M308 302.06h-5.7M23.1 296.07h3.7M308 296.07h-3.7M23.1 290.07h5.7M308 290.07h-5.7M23.1 284.07h3.7M308 284.07h-3.7M23.1 278.08h5.7M308 278.08h-5.7M23.1 272.08h3.7M308 272.08h-3.7M23.1 266.09h5.7M308 266.09h-5.7M23.1 260.09h3.7M308 260.09h-3.7M23.1 254.09h5.7M308 254.09h-5.7M23.1 248.1h3.7M308 248.1h-3.7M23.1 242.1h5.7M308 242.1h-5.7M23.1 326.05v-5.7M23.1 242.1v5.7M46.84 326.05v-3.7M46.84 242.1v3.7M70.58 326.05v-5.7M70.58 242.1v5.7M94.32 326.05v-3.7M94.32 242.1v3.7M118.07 326.05v-5.7M118.07 242.1v5.7M141.81 326.05v-3.7M141.81 242.1v3.7M165.55 326.05v-5.7M165.55 242.1v5.7M189.29 326.05v-3.7M189.29 242.1v3.7M213.03 326.05v-5.7M213.03 242.1v5.7M236.77 326.05v-3.7M236.77 242.1v3.7M260.52 326.05v-5.7M260.52 242.1v5.7M284.26 326.05v-3.7M284.26 242.1v3.7M308 326.05v-5.7M308 242.1v5.7" class="tk"/>
<rect x="23.1" y="242.1" width="284.9" height="83.95" class="fr"/>
<text x="18.1" y="328.75" class="yl">0.0</text>
<text x="18.1" y="316.76" class="yl">0.5</text>
<text x="18.1" y="304.76" class="yl">1.0</text>
<text x="18.1" y="292.77" class="yl">1.5</text>
<text x="18.1" y="280.78" class="yl">2.0</text>
<text x="18.1" y="268.79" class="yl">2.5</text>
<text x="18.1" y="256.79" class="yl">3.0</text>
<text x="18.1" y="244.8" class="yl">3.5</text>
<text x="23.1" y="337.2" class="xl">0</text>
<text x="70.58" y="337.2" class="xl">4</text>
<text x="118.07" y="337.2" class="xl">8</text>
<text x="165.55" y="337.2" class="xl">12</text>
<text x="213.03" y="337.2" class="xl">16</text>
<text x="260.52" y="337.2" class="xl">20</text>
<text x="308" y="337.2" class="xl">24</text>
<text y="238.7" class="ti" xml:space="preserve"><tspan x="266.87" textLength="15.1" lengthAdjust="spacingAndGlyphs">SO2</tspan><tspan> </tspan><tspan x="286.25" textLength="22.75" lengthAdjust="spacingAndGlyphs">(ppb)</tspan></text>
</g>
<g>
<clipPath id="cp7"><rect x="348.25" y="242.1" width="284.85" height="83.95"/></clipPath>
<g clip-path="url(#cp7)">
<polyline points="348.25,309.26 360.12,284.91 371.99,272.32 383.86,265.61 395.73,254.19 407.59,248.14 419.46,256.2 431.33,282.4 443.2,305.23 455.07,311.27 466.94,309.76 478.81,309.26 490.68,310.27 502.54,306.24 514.41,310.27 526.28,299.19 538.15,300.36 550.02,310.77 561.89,310.77 573.76,310.77 585.62,308.25 597.49,307.25 609.36,308.25 621.23,310.77 633.1,310.27" fill="none" stroke="#00ffff" stroke-width="1.05"/>
<g stroke="#00ffff"><use href="#m" x="348.25" y="309.26"/><use href="#m" x="360.12" y="284.91"/><use href="#m" x="371.99" y="272.32"/><use href="#m" x="383.86" y="265.61"/><use href="#m" x="395.73" y="254.19"/><use href="#m" x="407.59" y="248.14"/><use href="#m" x="419.46" y="256.2"/><use href="#m" x="431.33" y="282.4"/><use href="#m" x="443.2" y="305.23"/><use href="#m" x="455.07" y="311.27"/><use href="#m" x="466.94" y="309.76"/><use href="#m" x="478.81" y="309.26"/><use href="#m" x="490.68" y="310.27"/><use href="#m" x="502.54" y="306.24"/><use href="#m" x="514.41" y="310.27"/><use href="#m" x="526.28" y="299.19"/><use href="#m" x="538.15" y="300.36"/><use href="#m" x="550.02" y="310.77"/><use href="#m" x="561.89" y="310.77"/><use href="#m" x="573.76" y="310.77"/><use href="#m" x="585.62" y="308.25"/><use href="#m" x="597.49" y="307.25"/><use href="#m" x="609.36" y="308.25"/><use href="#m" x="621.23" y="310.77"/><use href="#m" x="633.1" y="310.27"/></g>
<polyline points="348.25,309.76 360.12,304.22 371.99,299.69 383.86,288.27 395.73,293.65 407.59,286.26 419.46,301.37 431.33,314.3 443.2,308.25 455.07,304.73 466.94,294.15 478.81,269.64 490.68,261.74 502.54,252.68 514.41,256.2 526.28,258.55 538.15,259.23 550.02,262.75 561.89,248.14 573.76,263.59 585.62,265.27 597.49,301.37 609.36,308.25 621.23,292.47 633.1,287.94" fill="none" stroke="#00ff00" stroke-width="1.05"/>
<g stroke="#00ff00"><use href="#m" x="348.25" y="309.76"/><use href="#m" x="360.12" y="304.22"/><use href="#m" x="371.99" y="299.69"/><use href="#m" x="383.86" y="288.27"/><use href="#m" x="395.73" y="293.65"/><use href="#m" x="407.59" y="286.26"/><use href="#m" x="419.46" y="301.37"/><use href="#m" x="431.33" y="314.3"/><use href="#m" x="443.2" y="308.25"/><use href="#m" x="455.07" y="304.73"/><use href="#m" x="466.94" y="294.15"/><use href="#m" x="478.81" y="269.64"/><use href="#m" x="490.68" y="261.74"/><use href="#m" x="502.54" y="252.68"/><use href="#m" x="514.41" y="256.2"/><use href="#m" x="526.28" y="258.55"/><use href="#m" x="538.15" y="259.23"/><use href="#m" x="550.02" y="262.75"/><use href="#m" x="561.89" y="248.14"/><use href="#m" x="573.76" y="263.59"/><use href="#m" x="585.62" y="265.27"/><use href="#m" x="597.49" y="301.37"/><use href="#m" x="609.36" y="308.25"/><use href="#m" x="621.23" y="292.47"/><use href="#m" x="633.1" y="287.94"/></g>
<polyline points="348.25,287.94 360.12,293.31 371.99,279.88 383.86,270.64 395.73,257.55 407.59,257.55 419.46,258.55 431.33,290.79 443.2,286.26 455.07,300.36 466.94,297.84 478.81,291.29 490.68,288.27 502.54,282.4 514.41,271.82 526.28,279.04 538.15,269.64 550.02,281.56 561.89,292.81 573.76,303.89 585.62,297.34 597.49,291.8 609.36,295.66 621.23,295.32 633.1,309.76" fill="none" stroke="#0000ff" stroke-width="1.05"/>
<g stroke="#0000ff"><use href="#m" x="348.25" y="287.94"/><use href="#m" x="360.12" y="293.31"/><use href="#m" x="371.99" y="279.88"/><use href="#m" x="383.86" y="270.64"/><use href="#m" x="395.73" y="257.55"/><use href="#m" x="407.59" y="257.55"/><use href="#m" x="419.46" y="258.55"/><use href="#m" x="431.33" y="290.79"/><use href="#m" x="443.2" y="286.26"/><use href="#m" x="455.07" y="300.36"/><use href="#m" x="466.94" y="297.84"/><use href="#m" x="478.81" y="291.29"/><use href="#m" x="490.68" y="288.27"/><use href="#m" x="502.54" y="282.4"/><use href="#m" x="514.41" y="271.82"/><use href="#m" x="526.28" y="279.04"/><use href="#m" x="538.15" y="269.64"/><use href="#m" x="550.02" y="281.56"/><use href="#m" x="561.89" y="292.81"/><use href="#m" x="573.76" y="303.89"/><use href="#m" x="585.62" y="297.34"/><use href="#m" x="597.49" y="291.8"/><use href="#m" x="609.36" y="295.66"/><use href="#m" x="621.23" y="295.32"/><use href="#m" x="633.1" y="309.76"/></g>
<polyline points="348.25,309.76 360.12,296.33 371.99,286.26 383.86,292.64 395.73,280.72 407.59,292.64 419.46,303.38 431.33,312.95 443.2,318.83 455.07,318.83 466.94,317.99 478.81,307.92 490.68,315.81 502.54,316.31 514.41,308.25 526.28,314.3 550.02,319.33 561.89,318.83 573.76,318.83 585.62,321.68 597.49,313.29 609.36,320.01 621.23,319.33 633.1,319.33" fill="none" stroke="#ff0000" stroke-width="1.05"/>
<g stroke="#ff0000"><use href="#m" x="348.25" y="309.76"/><use href="#m" x="360.12" y="296.33"/><use href="#m" x="371.99" y="286.26"/><use href="#m" x="383.86" y="292.64"/><use href="#m" x="395.73" y="280.72"/><use href="#m" x="407.59" y="292.64"/><use href="#m" x="419.46" y="303.38"/><use href="#m" x="431.33" y="312.95"/><use href="#m" x="443.2" y="318.83"/><use href="#m" x="455.07" y="318.83"/><use href="#m" x="466.94" y="317.99"/><use href="#m" x="478.81" y="307.92"/><use href="#m" x="490.68" y="315.81"/><use href="#m" x="502.54" y="316.31"/><use href="#m" x="514.41" y="308.25"/><use href="#m" x="526.28" y="314.3"/><use href="#m" x="550.02" y="319.33"/><use href="#m" x="561.89" y="318.83"/><use href="#m" x="573.76" y="318.83"/><use href="#m" x="585.62" y="321.68"/><use href="#m" x="597.49" y="313.29"/><use href="#m" x="609.36" y="320.01"/><use href="#m" x="621.23" y="319.33"/><use href="#m" x="633.1" y="319.33"/></g>
</g>
<path d="M348.25 309.26H633.1M348.25 292.47H633.1M348.25 275.68H633.1M348.25 258.89H633.1M395.73 242.1V326.05M443.2 242.1V326.05M490.68 242.1V326.05M538.15 242.1V326.05M585.62 242.1V326.05" class="gr"/>
<path d="M348.25 326.05h5.7M633.1 326.05h-5.7M348.25 317.66h3.7M633.1 317.66h-3.7M348.25 309.26h5.7M633.1 309.26h-5.7M348.25 300.87h3.7M633.1 300.87h-3.7M348.25 292.47h5.7M633.1 292.47h-5.7M348.25 284.07h3.7M633.1 284.07h-3.7M348.25 275.68h5.7M633.1 275.68h-5.7M348.25 267.29h3.7M633.1 267.29h-3.7M348.25 258.89h5.7M633.1 258.89h-5.7M348.25 250.5h3.7M633.1 250.5h-3.7M348.25 242.1h5.7M633.1 242.1h-5.7M348.25 326.05v-5.7M348.25 242.1v5.7M371.99 326.05v-3.7M371.99 242.1v3.7M395.73 326.05v-5.7M395.73 242.1v5.7M419.46 326.05v-3.7M419.46 242.1v3.7M443.2 326.05v-5.7M443.2 242.1v5.7M466.94 326.05v-3.7M466.94 242.1v3.7M490.68 326.05v-5.7M490.68 242.1v5.7M514.41 326.05v-3.7M514.41 242.1v3.7M538.15 326.05v-5.7M538.15 242.1v5.7M561.89 326.05v-3.7M561.89 242.1v3.7M585.62 326.05v-5.7M585.62 242.1v5.7M609.36 326.05v-3.7M609.36 242.1v3.7M633.1 326.05v-5.7M633.1 242.1v5.7" class="tk"/>
<rect x="348.25" y="242.1" width="284.85" height="83.95" class="fr"/>
<text x="343.25" y="328.75" class="yl">0</text>
<text x="343.25" y="311.96" class="yl">10</text>
<text x="343.25" y="295.17" class="yl">20</text>
<text x="343.25" y="278.38" class="yl">30</text>
<text x="343.25" y="261.59" class="yl">40</text>
<text x="343.25" y="244.8" class="yl">50</text>
<text x="348.25" y="337.2" class="xl">0</text>
<text x="395.73" y="337.2" class="xl">4</text>
<text x="443.2" y="337.2" class="xl">8</text>
<text x="490.68" y="337.2" class="xl">12</text>
<text x="538.15" y="337.2" class="xl">16</text>
<text x="585.62" y="337.2" class="xl">20</text>
<text x="633.1" y="337.2" class="xl">24</text>
<text y="238.7" class="ti" xml:space="preserve"><tspan x="597.28" textLength="10" lengthAdjust="spacingAndGlyphs">O3</tspan><tspan> </tspan><tspan x="611.3" textLength="22.5" lengthAdjust="spacingAndGlyphs">(ppb)</tspan></text>
</g>
<g>
<clipPath id="cp8"><rect x="673.3" y="242.1" width="284.85" height="83.95"/></clipPath>
<g clip-path="url(#cp8)">
<polyline points="673.3,297.65 685.17,304.78 697.04,306.74 708.91,311.22 720.77,319.61 732.64,319.61 744.51,319.61 756.38,312.76 768.25,308.56 780.12,305.2 791.99,298.49 803.86,299.19 815.72,297.65 827.59,298.49 839.46,297.65 851.33,298.49 863.2,299.19 875.07,292.75 886.94,296.11 898.81,295.13 910.67,301.14 922.54,300.17 934.41,301.14 946.28,296.11 958.15,302.68" fill="none" stroke="#00ffff" stroke-width="1.05"/>
<g stroke="#00ffff"><use href="#m" x="673.3" y="297.65"/><use href="#m" x="685.17" y="304.78"/><use href="#m" x="697.04" y="306.74"/><use href="#m" x="708.91" y="311.22"/><use href="#m" x="720.77" y="319.61"/><use href="#m" x="732.64" y="319.61"/><use href="#m" x="744.51" y="319.61"/><use href="#m" x="756.38" y="312.76"/><use href="#m" x="768.25" y="308.56"/><use href="#m" x="780.12" y="305.2"/><use href="#m" x="791.99" y="298.49"/><use href="#m" x="803.86" y="299.19"/><use href="#m" x="815.72" y="297.65"/><use href="#m" x="827.59" y="298.49"/><use href="#m" x="839.46" y="297.65"/><use href="#m" x="851.33" y="298.49"/><use href="#m" x="863.2" y="299.19"/><use href="#m" x="875.07" y="292.75"/><use href="#m" x="886.94" y="296.11"/><use href="#m" x="898.81" y="295.13"/><use href="#m" x="910.67" y="301.14"/><use href="#m" x="922.54" y="300.17"/><use href="#m" x="934.41" y="301.14"/><use href="#m" x="946.28" y="296.11"/><use href="#m" x="958.15" y="302.68"/></g>
<polyline points="673.3,303.1 685.17,306.74 697.04,306.18 708.91,310.8 720.77,308.56 732.64,312.2 744.51,309.12 756.38,303.52 768.25,308.56 780.12,304.78 791.99,293.45 803.86,297.65 815.72,301.14 827.59,302.12 839.46,299.19 851.33,298.49 863.2,299.47 875.07,292.05 886.94,291.49 898.81,278.06 910.67,295.13 922.54,271.06 934.41,253.57 946.28,265.61 958.15,270.5" fill="none" stroke="#00ff00" stroke-width="1.05"/>
<g stroke="#00ff00"><use href="#m" x="673.3" y="303.1"/><use href="#m" x="685.17" y="306.74"/><use href="#m" x="697.04" y="306.18"/><use href="#m" x="708.91" y="310.8"/><use href="#m" x="720.77" y="308.56"/><use href="#m" x="732.64" y="312.2"/><use href="#m" x="744.51" y="309.12"/><use href="#m" x="756.38" y="303.52"/><use href="#m" x="768.25" y="308.56"/><use href="#m" x="780.12" y="304.78"/><use href="#m" x="791.99" y="293.45"/><use href="#m" x="803.86" y="297.65"/><use href="#m" x="815.72" y="301.14"/><use href="#m" x="827.59" y="302.12"/><use href="#m" x="839.46" y="299.19"/><use href="#m" x="851.33" y="298.49"/><use href="#m" x="863.2" y="299.47"/><use href="#m" x="875.07" y="292.05"/><use href="#m" x="886.94" y="291.49"/><use href="#m" x="898.81" y="278.06"/><use href="#m" x="910.67" y="295.13"/><use href="#m" x="922.54" y="271.06"/><use href="#m" x="934.41" y="253.57"/><use href="#m" x="946.28" y="265.61"/><use href="#m" x="958.15" y="270.5"/></g>
<polyline points="673.3,270.5 685.17,268.68 697.04,282.54 708.91,287.43 720.77,292.05 732.64,295.13 744.51,298.49 756.38,287.15 768.25,292.05 780.12,282.12 791.99,267.01 803.86,271.48 815.72,271.48 827.59,274.98 839.46,284.07 851.33,284.07 863.2,284.07 875.07,282.68 886.94,276.52 898.81,259.59 910.67,253.57 922.54,252.45 934.41,258.47 946.28,265.61 958.15,265.61" fill="none" stroke="#0000ff" stroke-width="1.05"/>
<g stroke="#0000ff"><use href="#m" x="673.3" y="270.5"/><use href="#m" x="685.17" y="268.68"/><use href="#m" x="697.04" y="282.54"/><use href="#m" x="708.91" y="287.43"/><use href="#m" x="720.77" y="292.05"/><use href="#m" x="732.64" y="295.13"/><use href="#m" x="744.51" y="298.49"/><use href="#m" x="756.38" y="287.15"/><use href="#m" x="768.25" y="292.05"/><use href="#m" x="780.12" y="282.12"/><use href="#m" x="791.99" y="267.01"/><use href="#m" x="803.86" y="271.48"/><use href="#m" x="815.72" y="271.48"/><use href="#m" x="827.59" y="274.98"/><use href="#m" x="839.46" y="284.07"/><use href="#m" x="851.33" y="284.07"/><use href="#m" x="863.2" y="284.07"/><use href="#m" x="875.07" y="282.68"/><use href="#m" x="886.94" y="276.52"/><use href="#m" x="898.81" y="259.59"/><use href="#m" x="910.67" y="253.57"/><use href="#m" x="922.54" y="252.45"/><use href="#m" x="934.41" y="258.47"/><use href="#m" x="946.28" y="265.61"/><use href="#m" x="958.15" y="265.61"/></g>
<polyline points="673.3,265.61 685.17,278.06 697.04,289.11 708.91,280.44 720.77,296.53 732.64,295.13 744.51,290.09 756.38,281.42 768.25,279.04 780.12,278.06 791.99,267.01 803.86,274 815.72,276.52 827.59,273.44 839.46,248.4 851.33,260.43 875.07,282.68 886.94,292.05 898.81,278.06 910.67,265.61 922.54,272.04 934.41,273.44 946.28,278.06 958.15,279.04" fill="none" stroke="#ff0000" stroke-width="1.05"/>
<g stroke="#ff0000"><use href="#m" x="673.3" y="265.61"/><use href="#m" x="685.17" y="278.06"/><use href="#m" x="697.04" y="289.11"/><use href="#m" x="708.91" y="280.44"/><use href="#m" x="720.77" y="296.53"/><use href="#m" x="732.64" y="295.13"/><use href="#m" x="744.51" y="290.09"/><use href="#m" x="756.38" y="281.42"/><use href="#m" x="768.25" y="279.04"/><use href="#m" x="780.12" y="278.06"/><use href="#m" x="791.99" y="267.01"/><use href="#m" x="803.86" y="274"/><use href="#m" x="815.72" y="276.52"/><use href="#m" x="827.59" y="273.44"/><use href="#m" x="839.46" y="248.4"/><use href="#m" x="851.33" y="260.43"/><use href="#m" x="875.07" y="282.68"/><use href="#m" x="886.94" y="292.05"/><use href="#m" x="898.81" y="278.06"/><use href="#m" x="910.67" y="265.61"/><use href="#m" x="922.54" y="272.04"/><use href="#m" x="934.41" y="273.44"/><use href="#m" x="946.28" y="278.06"/><use href="#m" x="958.15" y="279.04"/></g>
</g>
<path d="M673.3 312.06H958.15M673.3 298.07H958.15M673.3 284.07H958.15M673.3 270.08H958.15M673.3 256.09H958.15M720.77 242.1V326.05M768.25 242.1V326.05M815.72 242.1V326.05M863.2 242.1V326.05M910.67 242.1V326.05" class="gr"/>
<path d="M673.3 326.05h5.7M958.15 326.05h-5.7M673.3 319.05h3.7M958.15 319.05h-3.7M673.3 312.06h5.7M958.15 312.06h-5.7M673.3 305.06h3.7M958.15 305.06h-3.7M673.3 298.07h5.7M958.15 298.07h-5.7M673.3 291.07h3.7M958.15 291.07h-3.7M673.3 284.07h5.7M958.15 284.07h-5.7M673.3 277.08h3.7M958.15 277.08h-3.7M673.3 270.08h5.7M958.15 270.08h-5.7M673.3 263.09h3.7M958.15 263.09h-3.7M673.3 256.09h5.7M958.15 256.09h-5.7M673.3 249.1h3.7M958.15 249.1h-3.7M673.3 242.1h5.7M958.15 242.1h-5.7M673.3 326.05v-5.7M673.3 242.1v5.7M697.04 326.05v-3.7M697.04 242.1v3.7M720.77 326.05v-5.7M720.77 242.1v5.7M744.51 326.05v-3.7M744.51 242.1v3.7M768.25 326.05v-5.7M768.25 242.1v5.7M791.99 326.05v-3.7M791.99 242.1v3.7M815.72 326.05v-5.7M815.72 242.1v5.7M839.46 326.05v-3.7M839.46 242.1v3.7M863.2 326.05v-5.7M863.2 242.1v5.7M886.94 326.05v-3.7M886.94 242.1v3.7M910.67 326.05v-5.7M910.67 242.1v5.7M934.41 326.05v-3.7M934.41 242.1v3.7M958.15 326.05v-5.7M958.15 242.1v5.7" class="tk"/>
<rect x="673.3" y="242.1" width="284.85" height="83.95" class="fr"/>
<text x="668.3" y="328.75" class="yl">0.3</text>
<text x="668.3" y="314.76" class="yl">0.4</text>
<text x="668.3" y="300.77" class="yl">0.5</text>
<text x="668.3" y="286.77" class="yl">0.6</text>
<text x="668.3" y="272.78" class="yl">0.7</text>
<text x="668.3" y="258.79" class="yl">0.8</text>
<text x="668.3" y="244.8" class="yl">0.9</text>
<text x="673.3" y="337.2" class="xl">0</text>
<text x="720.77" y="337.2" class="xl">4</text>
<text x="768.25" y="337.2" class="xl">8</text>
<text x="815.72" y="337.2" class="xl">12</text>
<text x="863.2" y="337.2" class="xl">16</text>
<text x="910.67" y="337.2" class="xl">20</text>
<text x="958.15" y="337.2" class="xl">24</text>
<text y="238.7" class="ti" xml:space="preserve"><tspan x="918.7" textLength="10" lengthAdjust="spacingAndGlyphs">CO</tspan><tspan> </tspan><tspan x="933.05" textLength="25.7" lengthAdjust="spacingAndGlyphs">(ppm)</tspan></text>
</g>
</svg>
</body></html>
